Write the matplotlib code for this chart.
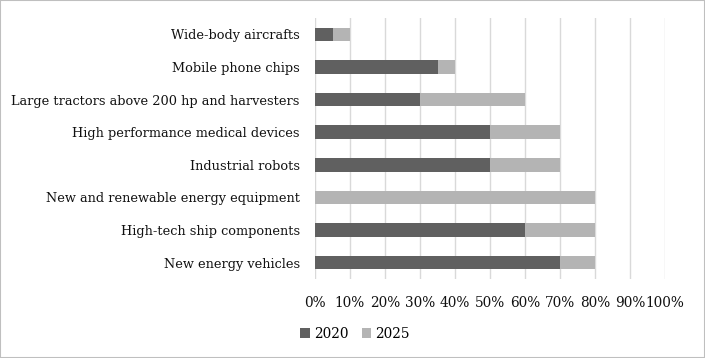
import matplotlib
matplotlib.use("Agg")
import matplotlib.pyplot as plt
from matplotlib.patches import Rectangle

categories = ["Wide-body aircrafts", "Mobile phone chips",
              "Large tractors above 200 hp and harvesters",
              "High performance medical devices", "Industrial robots",
              "New and renewable energy equipment",
              "High-tech ship components", "New energy vehicles"]
val_2020 = [5, 35, 30, 50, 50, 0, 60, 70]
val_2025 = [5, 5, 30, 20, 20, 80, 20, 10]
xticks = [0, 10, 20, 30, 40, 50, 60, 70, 80, 90, 100]
xtick_labels = [f"{t}%" for t in xticks]

plt.rcParams['font.family'] = ['DejaVu Serif']

fig = plt.figure(figsize=(7.05, 3.58), dpi=100)
ax = fig.add_axes([315/705, 1-279/358, 350/705, 261/358])

ypos = list(range(len(categories)))
ax.barh(ypos, val_2020, height=0.41, color="#606060", label="2020", zorder=3)
ax.barh(ypos, val_2025, left=val_2020, height=0.41, color="#b4b4b4", label="2025", zorder=3)

ax.set_xlim(0, 100)
ax.set_ylim(len(categories) - 0.5, -0.5)
ax.set_yticks(ypos)
ax.set_yticklabels(categories, fontsize=9.3, color="#111111")
ax.set_xticks(xticks)
ax.set_xticklabels(xtick_labels, fontsize=9.8, color="#111111")
ax.tick_params(axis='both', length=0)
ax.tick_params(axis='y', pad=11)
ax.tick_params(axis='x', pad=12)
ax.grid(axis='x', color="#d9d9d9", linewidth=1, zorder=0)
for s in ax.spines.values():
    s.set_visible(False)

leg = fig.legend(loc='center', bbox_to_anchor=(355/705, 1-334/358), ncol=2,
                 frameon=False, fontsize=9.8, handlelength=0.7, handleheight=0.7,
                 handletextpad=0.3, columnspacing=1.0)

fig.patches.append(Rectangle((0, 0), 1, 1, transform=fig.transFigure,
                             fill=False, edgecolor="#bfbfbf", linewidth=1.5))

fig.savefig("out.png", dpi=100)
